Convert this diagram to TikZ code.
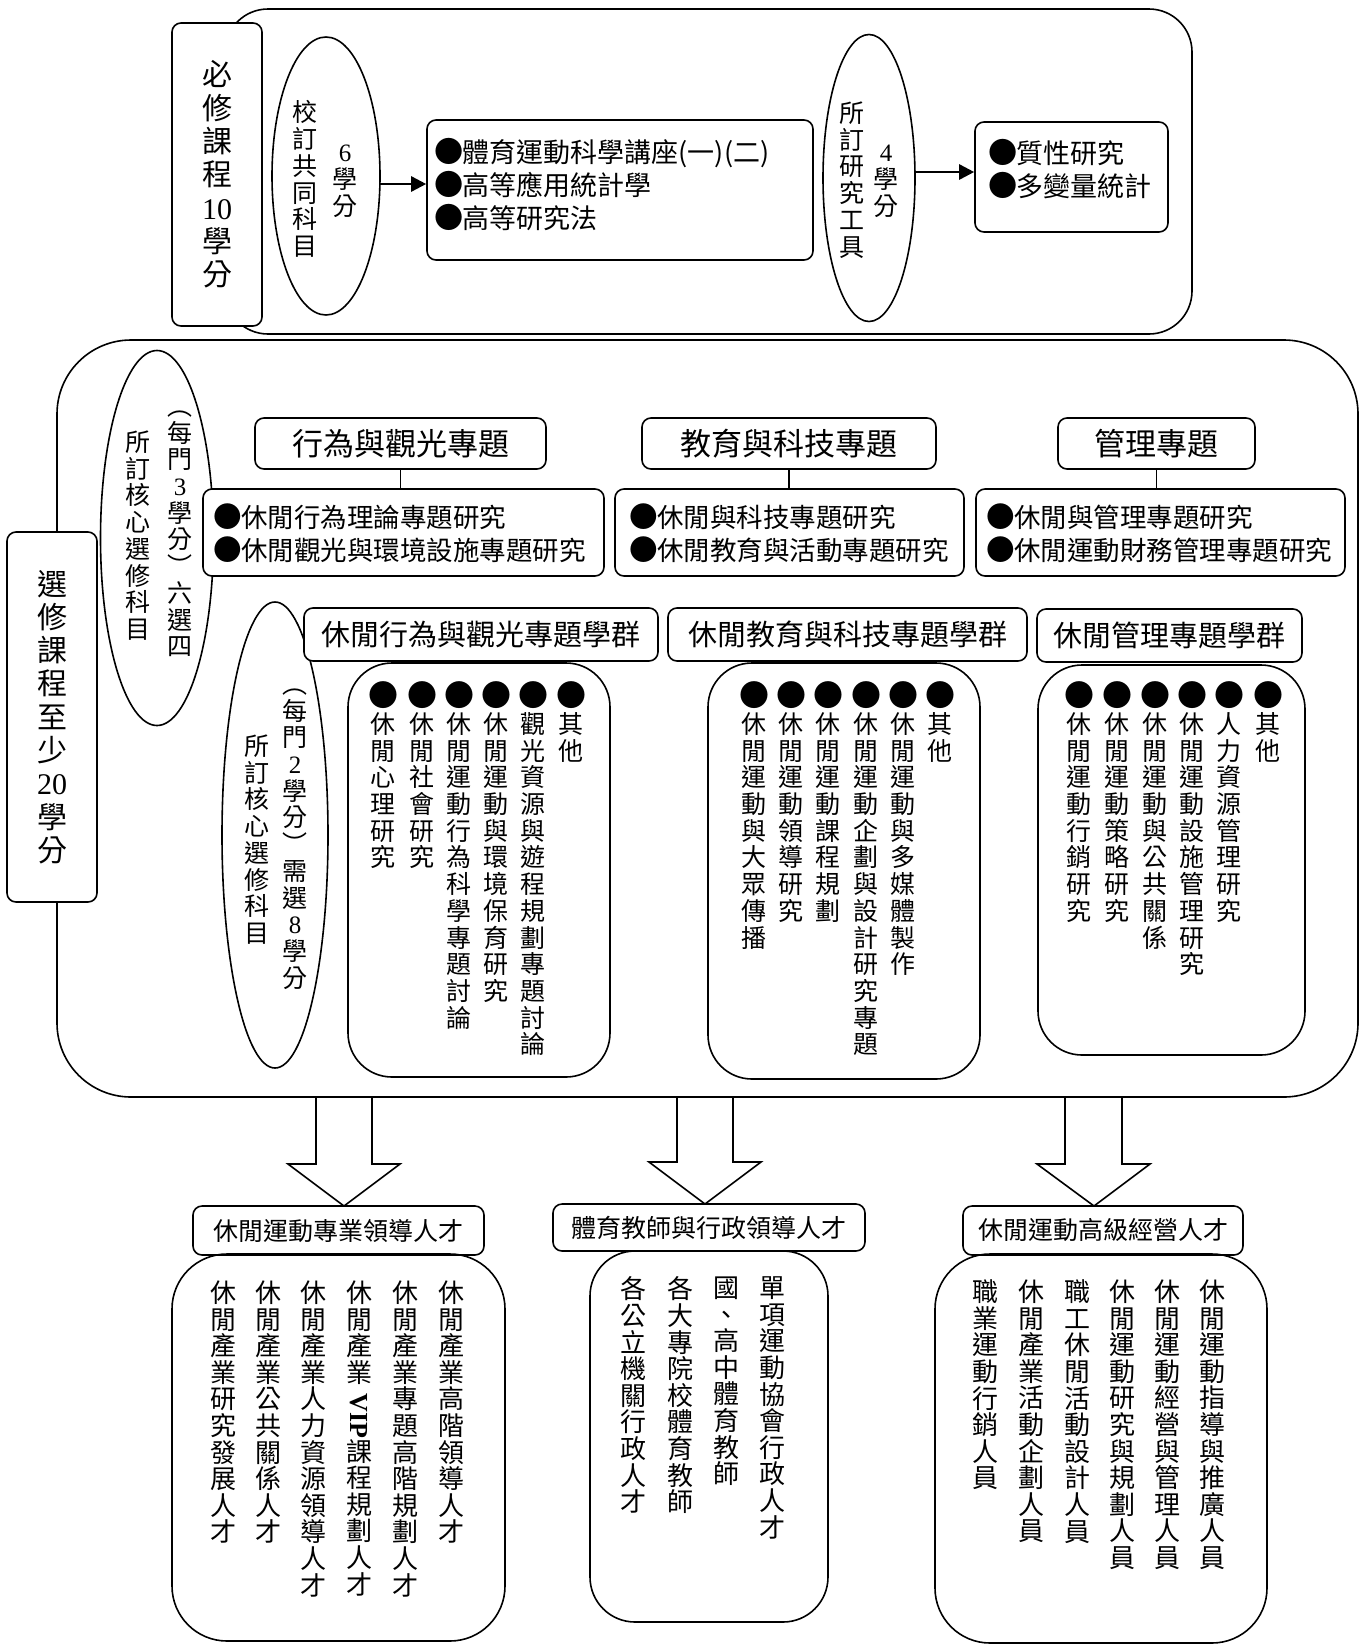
\documentclass[tikz,border=0pt]{standalone}
\usepackage{fontspec}
\setmainfont{Noto Sans CJK TC}
\newfontfamily\lat{Liberation Serif}
\usepackage{graphicx}
\usetikzlibrary{shapes.geometric, arrows.meta}

\makeatletter
\newcommand\vtext[1]{\vbox{\@tfor\vch:=#1\do{\hbox to 1em{\hss\vch\hss}}}}
\makeatother
\protected\def\vip{\raisebox{0.6em}{\rotatebox{-90}{\lat\bfseries VIP}}}
\protected\def\bul{\makebox[1em]{\scalebox{1.2}{●}}}
\protected\def\hbul{\makebox[1em]{\scalebox{1.08}{●}}}

\newcommand\fbig{\fontsize{30}{33.3}\selectfont}
\newcommand\fov{\fontsize{25}{26.7}\selectfont}
\newcommand\ftop{\fontsize{27}{33}\selectfont}
\newcommand\fhead{\fontsize{31}{34}\selectfont}
\newcommand\fsub{\fontsize{29}{32}\selectfont}
\newcommand\fitem{\fontsize{26.5}{33}\selectfont}
\newcommand\fcol{\fontsize{25}{26.7}\selectfont}
\newcommand\ftal{\fontsize{25}{28}\selectfont}
\newcommand\fbot{\fontsize{26}{26.6}\selectfont}

\tikzset{
  rbox/.style={draw, rounded corners=9pt, fill=white, inner sep=0pt},
  cbox/.style={draw, rounded corners=44pt, inner sep=0pt},
  oval/.style={draw, ellipse, inner sep=0pt},
  vcol/.style={anchor=north, inner sep=0pt},
  list/.style={anchor=west, align=left, inner sep=0pt},
  arr/.style={-{Triangle[length=15pt,width=15pt]}, line width=2.6pt},
  hollow/.style={fill=white, line width=1.6pt}
}

\begin{document}
\begin{tikzpicture}[x=1pt, y=-1pt, line width=1.6pt]
    \useasboundingbox (0,0) rectangle (1365,1644);

    % required part
    \node[draw, rounded corners=43pt, minimum width=967pt, minimum height=325pt] (req) at (708.5,171.5) {};
    \node[rbox, minimum width=90pt, minimum height=303pt, font=\fbig] (reqlab) at (217,174.5) {\vtext{必修課程{\lat 10}學分}};

    \node[oval, minimum width=108pt, minimum height=278pt] (school) at (326,176) {};
    \node[vcol, font=\fov] (schoolname) at (305,100) {\vtext{校訂共同科目}};
    \node[vcol, font=\fov] (schoolcr) at (345,144.5) {\vtext{{\lat 6}學分}};

    \node[rbox, minimum width=386pt, minimum height=140pt] (common) at (620,190) {};
    \node[list, font=\ftop] (commonlist) at (435,185) {\hbul 體育運動科學講座(一)(二)\\\hbul 高等應用統計學\\\hbul 高等研究法};

    \node[oval, minimum width=92pt, minimum height=287pt] (tools) at (869,178) {};
    \node[vcol, font=\fov] (toolsname) at (852,101) {\vtext{所訂研究工具}};
    \node[vcol, font=\fov] (toolscr) at (886,144.5) {\vtext{{\lat 4}學分}};

    \node[rbox, minimum width=193pt, minimum height=110pt] (method) at (1071.5,177) {};
    \node[list, font=\ftop] (methodlist) at (989,169) {\hbul 質性研究\\\hbul 多變量統計};

    \coordinate (from1) at (379,184);
    \coordinate (from2) at (916,172);
    \draw[arr] (from1) -- (from1 -| common.west);
    \draw[arr] (from2) -- (from2 -| method.west);

    % elective part
    \node[draw, rounded corners=74pt, minimum width=1301pt, minimum height=757pt] (ele) at (707.5,718.5) {};
    \node[rbox, minimum width=90pt, minimum height=370pt, font=\fbig] (elelab) at (52,717) {\vtext{選修課程至少{\lat 20}學分}};

    \node[oval, minimum width=113pt, minimum height=375pt] (coreA) at (157,538) {};
    \node[vcol, font=\fov] (coreAname) at (138,430) {\vtext{所訂核心選修科目}};
    \node[vcol, font=\fov] (coreAcr) at (180,410) {\vtext{︵每門{\lat 3}學分︶六選四}};

    \node[rbox, minimum width=291pt, minimum height=51pt, font=\fhead] (t1) at (400.5,443.5) {行為與觀光專題};
    \node[rbox, minimum width=294pt, minimum height=51pt, font=\fhead] (t2) at (789,443.5) {教育與科技專題};
    \node[rbox, minimum width=197pt, minimum height=51pt, font=\fhead] (t3) at (1156.5,443.5) {管理專題};

    \node[rbox, minimum width=401pt, minimum height=87pt] (a1) at (403.5,532.5) {};
    \node[rbox, minimum width=349pt, minimum height=87pt] (a2) at (789.5,532.5) {};
    \node[rbox, minimum width=369pt, minimum height=87pt] (a3) at (1160.5,532.5) {};
    \node[list, font=\fitem] (a1list) at (214,533.5) {\hbul 休閒行為理論專題研究\\\hbul 休閒觀光與環境設施專題研究};
    \node[list, font=\fitem] (a2list) at (630,533.5) {\hbul 休閒與科技專題研究\\\hbul 休閒教育與活動專題研究};
    \node[list, font=\fitem] (a3list) at (987,533.5) {\hbul 休閒與管理專題研究\\\hbul 休閒運動財務管理專題研究};

    \draw (t1.south) -- (t1.south |- a1.north);
    \draw (t2.south) -- (t2.south |- a2.north);
    \draw (t3.south) -- (t3.south |- a3.north);

    \node[oval, minimum width=106pt, minimum height=466pt] (coreB) at (275,835) {};
    \node[vcol, font=\fov] (coreBname) at (257,734) {\vtext{所訂核心選修科目}};
    \node[vcol, font=\fov] (coreBcr) at (295,688) {\vtext{︵每門{\lat 2}學分︶需選{\lat 8}學分}};

    \node[rbox, minimum width=354pt, minimum height=53pt, font=\fsub] (g1) at (481,634.5) {休閒行為與觀光專題學群};
    \node[rbox, minimum width=359pt, minimum height=53pt, font=\fsub] (g2) at (847.5,634.5) {休閒教育與科技專題學群};
    \node[rbox, minimum width=265pt, minimum height=53pt, font=\fsub] (g3) at (1169.5,635.5) {休閒管理專題學群};

    \node[cbox, minimum width=262pt, minimum height=414pt] (d) at (479,870) {};
    \node[cbox, minimum width=272pt, minimum height=416pt] (e) at (844,871) {};
    \node[cbox, minimum width=267pt, minimum height=390pt] (f) at (1171.5,860) {};

    \node[vcol, font=\fcol] (d1) at (383,681) {\vtext{\bul 休閒心理研究}};
    \node[vcol, font=\fcol] (d2) at (422,681) {\vtext{\bul 休閒社會研究}};
    \node[vcol, font=\fcol] (d3) at (459,681) {\vtext{\bul 休閒運動行為科學專題討論}};
    \node[vcol, font=\fcol] (d4) at (496,681) {\vtext{\bul 休閒運動與環境保育研究}};
    \node[vcol, font=\fcol] (d5) at (533,681) {\vtext{\bul 觀光資源與遊程規劃專題討論}};
    \node[vcol, font=\fcol] (d6) at (571,681) {\vtext{\bul 其他}};

    \node[vcol, font=\fcol] (e1) at (754,681) {\vtext{\bul 休閒運動與大眾傳播}};
    \node[vcol, font=\fcol] (e2) at (791,681) {\vtext{\bul 休閒運動領導研究}};
    \node[vcol, font=\fcol] (e3) at (828,681) {\vtext{\bul 休閒運動課程規劃}};
    \node[vcol, font=\fcol] (e4) at (866,681) {\vtext{\bul 休閒運動企劃與設計研究專題}};
    \node[vcol, font=\fcol] (e5) at (903,681) {\vtext{\bul 休閒運動與多媒體製作}};
    \node[vcol, font=\fcol] (e6) at (940,681) {\vtext{\bul 其他}};

    \node[vcol, font=\fcol] (f1) at (1079,681) {\vtext{\bul 休閒運動行銷研究}};
    \node[vcol, font=\fcol] (f2) at (1117,681) {\vtext{\bul 休閒運動策略研究}};
    \node[vcol, font=\fcol] (f3) at (1155,681) {\vtext{\bul 休閒運動與公共關係}};
    \node[vcol, font=\fcol] (f4) at (1192,681) {\vtext{\bul 休閒運動設施管理研究}};
    \node[vcol, font=\fcol] (f5) at (1229,681) {\vtext{\bul 人力資源管理研究}};
    \node[vcol, font=\fcol] (f6) at (1268,681) {\vtext{\bul 其他}};

    % careers
    \coordinate (tip1) at (344,1206);
    \coordinate (tip2) at (705,1204);
    \coordinate (tip3) at (1094,1206);
    \draw[hollow] (tip1) -- ++(-56,-42) -- ++(28,0) -- ++(0,-67) -- ++(56,0) -- ++(0,67) -- ++(28,0) -- cycle;
    \draw[hollow] (tip2) -- ++(-56,-42) -- ++(28,0) -- ++(0,-65) -- ++(56,0) -- ++(0,65) -- ++(28,0) -- cycle;
    \draw[hollow] (tip3) -- ++(-57,-42) -- ++(28,0) -- ++(0,-67) -- ++(57,0) -- ++(0,67) -- ++(28,0) -- cycle;

    \node[rbox, minimum width=291pt, minimum height=49pt, font=\ftal] (p1) at (338.5,1230.5) {休閒運動專業領導人才};
    \node[rbox, minimum width=312pt, minimum height=47pt, font=\ftal] (p2) at (709,1227.5) {體育教師與行政領導人才};
    \node[rbox, minimum width=280pt, minimum height=49pt, font=\ftal] (p3) at (1103,1230.5) {休閒運動高級經營人才};

    \node[cbox, rounded corners=55pt, minimum width=333pt, minimum height=387pt] (g) at (338.5,1447.5) {};
    \node[cbox, rounded corners=45pt, minimum width=238pt, minimum height=371pt] (h) at (709,1436.5) {};
    \node[cbox, rounded corners=55pt, minimum width=332pt, minimum height=389pt] (i) at (1101,1448.5) {};

    \node[vcol, font=\fbot] (g1c) at (223,1280) {\vtext{休閒產業研究發展人才}};
    \node[vcol, font=\fbot] (g2c) at (268,1280) {\vtext{休閒產業公共關係人才}};
    \node[vcol, font=\fbot] (g3c) at (313,1280) {\vtext{休閒產業人力資源領導人才}};
    \node[vcol, font=\fbot] (g4c) at (359,1280) {\vtext{休閒產業\vip 課程規劃人才}};
    \node[vcol, font=\fbot] (g5c) at (405,1280) {\vtext{休閒產業專題高階規劃人才}};
    \node[vcol, font=\fbot] (g6c) at (451,1280) {\vtext{休閒產業高階領導人才}};

    \node[vcol, font=\fbot] (h1c) at (633,1276) {\vtext{各公立機關行政人才}};
    \node[vcol, font=\fbot] (h2c) at (680,1276) {\vtext{各大專院校體育教師}};
    \node[vcol, font=\fbot] (h3c) at (726,1276) {\vtext{國、高中體育教師}};
    \node[vcol, font=\fbot] (h4c) at (772,1276) {\vtext{單項運動協會行政人才}};

    \node[vcol, font=\fbot] (i1c) at (985,1279) {\vtext{職業運動行銷人員}};
    \node[vcol, font=\fbot] (i2c) at (1031,1279) {\vtext{休閒產業活動企劃人員}};
    \node[vcol, font=\fbot] (i3c) at (1077,1279) {\vtext{職工休閒活動設計人員}};
    \node[vcol, font=\fbot] (i4c) at (1122,1279) {\vtext{休閒運動研究與規劃人員}};
    \node[vcol, font=\fbot] (i5c) at (1167,1279) {\vtext{休閒運動經營與管理人員}};
    \node[vcol, font=\fbot] (i6c) at (1212,1279) {\vtext{休閒運動指導與推廣人員}};
\end{tikzpicture}
\end{document}
